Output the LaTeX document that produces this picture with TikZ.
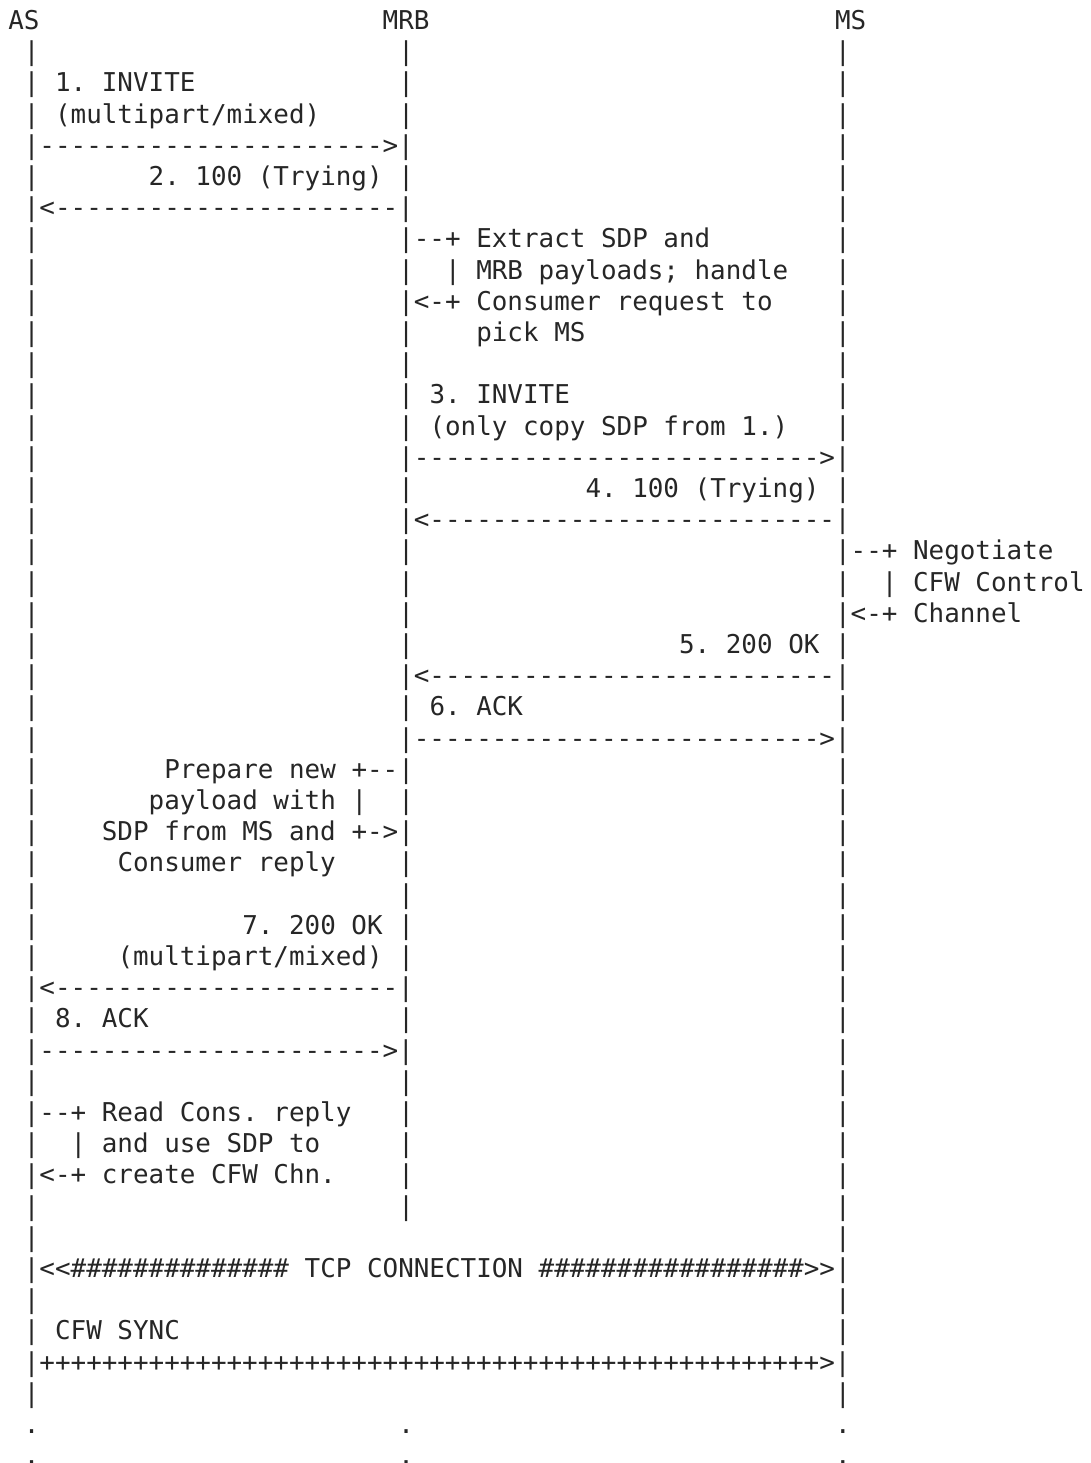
\documentclass[tikz,border=0pt]{standalone}
\usepackage{fontspec}
\setmonofont{DejaVu Sans Mono}
\ExplSyntaxOn
\cs_new:Npn \myrep #1#2 { \prg_replicate:nn {#1}{#2} }
\ExplSyntaxOff
\tikzset{txt/.style={anchor=base west,inner sep=0pt,outer sep=0pt,text=black!85,font=\ttfamily\fontsize{19.43pt}{23.4pt}\selectfont}}
\newcommand\T[3]{\node[txt] (r#1c#2) at ({8.3+15.6*#2},{29.5+31.2*#1}) {#3};}
\newcommand\B[2]{\T{#1}{#2}{|}}
\newcommand\D[2]{\T{#1}{#2}{.}}
\begin{document}
\begin{tikzpicture}[x=0.75pt,y=-0.75pt]
\useasboundingbox (0,0) rectangle (1090,1463);
% row 0
\T{0}{0}{AS}\T{0}{24}{MRB}\T{0}{53}{MS}
% row 1
\B{1}{1}\B{1}{25}\B{1}{53}
\B{2}{1}\T{2}{3}{1. INVITE}\B{2}{25}\B{2}{53}
\B{3}{1}\T{3}{3}{(multipart/mixed)}\B{3}{25}\B{3}{53}
\T{4}{1}{|\myrep{22}{-}>|}\B{4}{53}
\B{5}{1}\T{5}{9}{2. 100 (Trying)}\B{5}{25}\B{5}{53}
\T{6}{1}{|<\myrep{22}{-}|}\B{6}{53}
\B{7}{1}\T{7}{25}{|--+}\T{7}{30}{Extract SDP and}\B{7}{53}
\B{8}{1}\B{8}{25}\B{8}{28}\T{8}{30}{MRB payloads; handle}\B{8}{53}
\B{9}{1}\T{9}{25}{|<-+}\T{9}{30}{Consumer request to}\B{9}{53}
\B{10}{1}\B{10}{25}\T{10}{30}{pick MS}\B{10}{53}
\B{11}{1}\B{11}{25}\B{11}{53}
\B{12}{1}\B{12}{25}\T{12}{27}{3. INVITE}\B{12}{53}
\B{13}{1}\B{13}{25}\T{13}{27}{(only copy SDP from 1.)}\B{13}{53}
\B{14}{1}\T{14}{25}{|\myrep{26}{-}>|}
\B{15}{1}\B{15}{25}\T{15}{37}{4. 100 (Trying)}\B{15}{53}
\B{16}{1}\T{16}{25}{|<\myrep{26}{-}|}
\B{17}{1}\B{17}{25}\T{17}{53}{|--+}\T{17}{58}{Negotiate}
\B{18}{1}\B{18}{25}\B{18}{53}\B{18}{56}\T{18}{58}{CFW Control}
\B{19}{1}\B{19}{25}\T{19}{53}{|<-+}\T{19}{58}{Channel}
\B{20}{1}\B{20}{25}\T{20}{43}{5. 200 OK}\B{20}{53}
\B{21}{1}\T{21}{25}{|<\myrep{26}{-}|}
\B{22}{1}\B{22}{25}\T{22}{27}{6. ACK}\B{22}{53}
\B{23}{1}\T{23}{25}{|\myrep{26}{-}>|}
\B{24}{1}\T{24}{10}{Prepare new}\T{24}{22}{+--|}\B{24}{53}
\B{25}{1}\T{25}{9}{payload with}\B{25}{22}\B{25}{25}\B{25}{53}
\B{26}{1}\T{26}{6}{SDP from MS and}\T{26}{22}{+->|}\B{26}{53}
\B{27}{1}\T{27}{7}{Consumer reply}\B{27}{25}\B{27}{53}
\B{28}{1}\B{28}{25}\B{28}{53}
\B{29}{1}\T{29}{15}{7. 200 OK}\B{29}{25}\B{29}{53}
\B{30}{1}\T{30}{7}{(multipart/mixed)}\B{30}{25}\B{30}{53}
\T{31}{1}{|<\myrep{22}{-}|}\B{31}{53}
\B{32}{1}\T{32}{3}{8. ACK}\B{32}{25}\B{32}{53}
\T{33}{1}{|\myrep{22}{-}>|}\B{33}{53}
\B{34}{1}\B{34}{25}\B{34}{53}
\T{35}{1}{|--+}\T{35}{6}{Read Cons. reply}\B{35}{25}\B{35}{53}
\B{36}{1}\B{36}{4}\T{36}{6}{and use SDP to}\B{36}{25}\B{36}{53}
\T{37}{1}{|<-+}\T{37}{6}{create CFW Chn.}\B{37}{25}\B{37}{53}
\B{38}{1}\B{38}{25}\B{38}{53}
\B{39}{1}\B{39}{53}
\T{40}{1}{|<<\myrep{14}{\#}}\T{40}{19}{TCP CONNECTION}\T{40}{34}{\myrep{17}{\#}>>|}
\B{41}{1}\B{41}{53}
\B{42}{1}\T{42}{3}{CFW SYNC}\B{42}{53}
\T{43}{1}{|\myrep{50}{+}>|}
\B{44}{1}\B{44}{53}
\D{45}{1}\D{45}{25}\D{45}{53}
\D{46}{1}\D{46}{25}\D{46}{53}
\end{tikzpicture}
\end{document}
